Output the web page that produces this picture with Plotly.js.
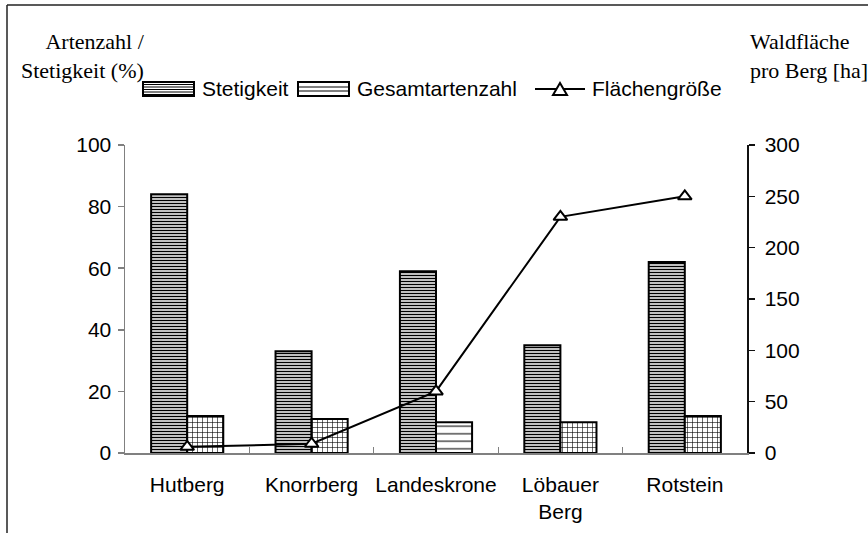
<!DOCTYPE html>
<html><head><meta charset="utf-8">
<script src="https://cdn.plot.ly/plotly-3.0.1.min.js"></script>
<style>html,body{margin:0;padding:0;background:#fff}</style>
</head><body><div id="chart" style="width:868px;height:533px"></div>
<script>
// ---- data ----
const categories = ['Hutberg', 'Knorrberg', 'Landeskrone', 'Löbauer<br>Berg', 'Rotstein'];
const stetigkeit = [84, 33, 59, 35, 62];
const gesamtartenzahl = [12, 11, 10, 10, 12];
const flaechengroesse = [6, 9, 60, 230, 250];
const leftTickVals = [0, 20, 40, 60, 80, 100];
const rightTickVals = [0, 50, 100, 150, 200, 250, 300];
const seriesNames = ['Stetigkeit', 'Gesamtartenzahl', 'Flächengröße'];

// ---- styles ----
const gesamtShapes = ['+', '+', '-', '+', '+'];
const gesamtSizes = [5, 5, 7.5, 5, 5];
const gesamtSolid = [0.22, 0.22, 0.14, 0.22, 0.22];

// ---- layout geometry (pixels) ----
const W = 868, H = 533, L = 125, R = 747, T = 145, B = 453;
const px = x => (x - L) / (R - L);
const py = y => (B - y) / (B - T);
const FONT = 'Liberation Sans, Arial, sans-serif';
const SERIF = 'Liberation Serif, Times New Roman, serif';
const FS = 21;

const traces = [
  {
    type: 'bar', name: seriesNames[0], x: categories, y: stetigkeit,
    marker: {
      color: 'white', line: {color: 'black', width: 2},
      pattern: {shape: '-', size: 3, solidity: 0.5, fgcolor: 'black', bgcolor: 'white', fillmode: 'replace'}
    },
    showlegend: false, hoverinfo: 'skip'
  },
  {
    type: 'bar', name: seriesNames[1], x: categories, y: gesamtartenzahl,
    marker: {
      color: 'white', line: {color: 'black', width: 2},
      pattern: {shape: gesamtShapes, size: gesamtSizes, solidity: gesamtSolid, fgcolor: 'black', bgcolor: 'white', fillmode: 'replace'}
    },
    showlegend: false, hoverinfo: 'skip'
  },
  {
    type: 'scatter', mode: 'lines+markers', name: seriesNames[2], x: categories, y: flaechengroesse,
    yaxis: 'y2', line: {color: 'black', width: 2},
    marker: {symbol: 'triangle-up', size: 12, color: 'white', line: {color: 'black', width: 2}},
    showlegend: false, hoverinfo: 'skip', cliponaxis: false
  }
];

// custom legend + frame
const shapes = [
  {type: 'line', xref: 'paper', yref: 'paper', x0: px(7), x1: px(868), y0: py(5), y1: py(5), line: {color: '#222', width: 1.5}},
  {type: 'line', xref: 'paper', yref: 'paper', x0: px(7), x1: px(7), y0: py(5), y1: py(533), line: {color: '#222', width: 1.5}},
  {type: 'rect', xref: 'paper', yref: 'paper', x0: px(143), x1: px(194), y0: py(82), y1: py(96), line: {color: 'black', width: 2}, fillcolor: 'white'},
];
[84.5, 87, 89.5, 92, 94.5].forEach(yy => shapes.push({type: 'line', xref: 'paper', yref: 'paper', x0: px(143), x1: px(194), y0: py(yy), y1: py(yy), line: {color: 'black', width: 1}}));
shapes.push({type: 'rect', xref: 'paper', yref: 'paper', x0: px(298), x1: px(349), y0: py(82), y1: py(96), line: {color: 'black', width: 2}, fillcolor: 'white'});
[87, 91].forEach(yy => shapes.push({type: 'line', xref: 'paper', yref: 'paper', x0: px(298), x1: px(349), y0: py(yy), y1: py(yy), line: {color: 'black', width: 1}}));
shapes.push({type: 'line', xref: 'paper', yref: 'paper', x0: px(535), x1: px(585), y0: py(89), y1: py(89), line: {color: 'black', width: 2}});
shapes.push({type: 'path', xref: 'paper', yref: 'paper',
  path: `M${px(560)},${py(83)} L${px(553)},${py(95)} L${px(567)},${py(95)} Z`,
  fillcolor: 'white', line: {color: 'black', width: 2}});

const annotations = [
  {xref: 'paper', yref: 'paper', x: px(200), y: py(89), xanchor: 'left', yanchor: 'middle', text: seriesNames[0], showarrow: false, font: {family: FONT, size: FS, color: 'black'}},
  {xref: 'paper', yref: 'paper', x: px(355), y: py(89), xanchor: 'left', yanchor: 'middle', text: seriesNames[1], showarrow: false, font: {family: FONT, size: FS, color: 'black'}},
  {xref: 'paper', yref: 'paper', x: px(590), y: py(89), xanchor: 'left', yanchor: 'middle', text: seriesNames[2], showarrow: false, font: {family: FONT, size: FS, color: 'black'}},
  {xref: 'paper', yref: 'paper', x: px(147), y: py(27), xanchor: 'right', yanchor: 'top', align: 'right', text: 'Artenzahl /<br>Stetigkeit (%)', showarrow: false, font: {family: SERIF, size: 22, color: 'black'}},
  {xref: 'paper', yref: 'paper', x: px(748), y: py(27), xanchor: 'left', yanchor: 'top', align: 'left', text: 'Waldfläche<br>pro Berg [ha]', showarrow: false, font: {family: SERIF, size: 22, color: 'black'}}
];

const layout = {
  width: W, height: H, autosize: false,
  margin: {l: L, r: W - R, t: T, b: H - B, pad: 0},
  paper_bgcolor: 'white', plot_bgcolor: 'white',
  font: {family: FONT, size: FS, color: 'black'},
  barmode: 'group', bargap: 0.42, bargroupgap: 0,
  xaxis: {
    type: 'category', showline: true, linecolor: '#808080', linewidth: 1.5,
    ticks: 'inside', tickson: 'boundaries', ticklen: 6, tickcolor: '#808080', tickwidth: 1,
    showgrid: false, zeroline: false, tickangle: 0, automargin: false,
    tickfont: {family: FONT, size: FS, color: 'black'}, ticklabelstandoff: 12
  },
  yaxis: {
    range: [0, 100], tickvals: leftTickVals, ticktext: leftTickVals.map(String),
    showline: true, linecolor: '#808080', linewidth: 1.5,
    ticks: 'outside', ticklen: 6, tickcolor: '#808080', tickwidth: 1.5,
    showgrid: false, zeroline: false, tickfont: {family: FONT, size: FS, color: 'black'},
    ticklabelstandoff: 2
  },
  yaxis2: {
    range: [0, 300], tickvals: rightTickVals, ticktext: rightTickVals.map(String),
    overlaying: 'y', side: 'right', showline: true, linecolor: '#111', linewidth: 1.5,
    ticks: 'outside', ticklen: 6, tickcolor: '#111', tickwidth: 1.5,
    showgrid: false, zeroline: false, tickfont: {family: FONT, size: FS, color: 'black'},
    ticklabelstandoff: 6
  },
  showlegend: false,
  shapes: shapes,
  annotations: annotations
};

Plotly.newPlot('chart', traces, layout, {displayModeBar: false, staticPlot: true});
</script>
</body></html>
